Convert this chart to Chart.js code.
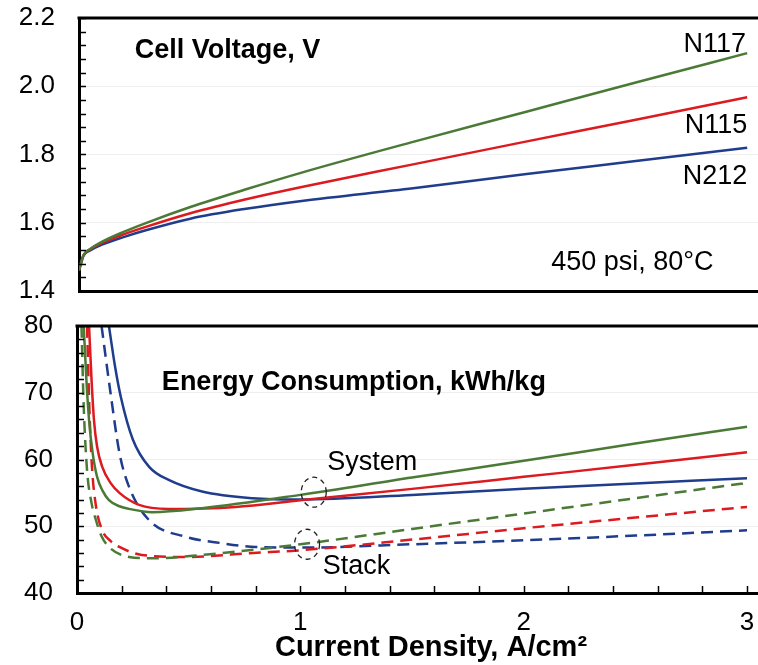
<!DOCTYPE html>
<html>
<head>
<meta charset="utf-8">
<script src="https://cdn.jsdelivr.net/npm/chart.js@4.4.1/dist/chart.umd.min.js"></script>
<style>
  html, body { margin: 0; padding: 0; background: #fff; overflow: hidden; width: 758px; height: 665px; }
  canvas { position: absolute; left: 0; }
  #top { top: 0; }
  #bottom { top: 300px; }
</style>
</head>
<body>
<canvas id="top" width="770" height="320"></canvas>
<canvas id="bottom" width="790" height="365"></canvas>
<script>
// x axis ticks (current density, A/cm2)
const xTicks = [0, 1, 2, 3];

// Cell voltage, V
const xVolt = [0, 0.02, 0.05, 0.1, 0.2, 0.3, 0.5, 0.75, 1.0, 1.5, 2.0, 2.5, 3.0];
const voltN117 = [1.46, 1.505, 1.523, 1.543, 1.573, 1.599, 1.646, 1.698, 1.747, 1.837, 1.924, 2.011, 2.097];
const voltN115 = [1.46, 1.505, 1.522, 1.540, 1.566, 1.588, 1.628, 1.669, 1.705, 1.771, 1.837, 1.902, 1.968];
const voltN212 = [1.46, 1.503, 1.519, 1.535, 1.558, 1.578, 1.612, 1.641, 1.664, 1.701, 1.742, 1.781, 1.820];

// System energy consumption, kWh/kg
const sysN117X = [0.03, 0.042, 0.054, 0.07, 0.09, 0.115, 0.143, 0.19, 0.233, 0.336, 0.56, 1.0, 1.5, 2.0, 2.5, 3.0];
const sysN117Y = [80, 72, 65.9, 61, 57.4, 55.3, 53.9, 53.0, 52.6, 52.1, 52.7, 54.7, 57.3, 59.8, 62.4, 64.9];
const sysN115X = [0.054, 0.065, 0.076, 0.09, 0.113, 0.15, 0.19, 0.278, 0.41, 0.71, 1.0, 1.5, 2.0, 2.5, 3.0];
const sysN115Y = [80, 72, 65.9, 61.9, 58.9, 56.5, 55.0, 53.2, 52.6, 52.9, 53.9, 55.6, 57.4, 59.2, 61.1];
const sysN212X = [0.143, 0.17, 0.196, 0.25, 0.323, 0.413, 0.56, 0.785, 1.0, 1.5, 2.0, 2.5, 3.0];
const sysN212Y = [80, 74, 69.4, 63.0, 58.9, 56.9, 55.2, 54.2, 54.0, 54.7, 55.6, 56.4, 57.2];

// Stack energy consumption, kWh/kg
const stkN117X = [0.02, 0.03, 0.045, 0.065, 0.085, 0.11, 0.143, 0.233, 0.34, 0.56, 1.0, 1.5, 2.0, 2.5, 3.0];
const stkN117Y = [80, 68, 58.4, 53.5, 50.9, 48.5, 46.9, 45.4, 45.2, 45.7, 47.3, 49.6, 51.9, 54.2, 56.5];
const stkN115X = [0.045, 0.055, 0.067, 0.085, 0.113, 0.15, 0.19, 0.29, 0.49, 0.79, 1.0, 1.5, 2.0, 2.5, 3.0];
const stkN115Y = [80, 68, 58.9, 53, 49.4, 47.8, 46.9, 45.7, 45.4, 46.0, 46.4, 48.0, 49.7, 51.3, 52.9];
const stkN212X = [0.11, 0.15, 0.19, 0.233, 0.323, 0.49, 0.64, 0.8, 1.0, 1.5, 2.0, 2.5, 3.0];
const stkN212Y = [80, 70, 61, 55.9, 50.9, 48.4, 47.5, 46.9, 46.8, 47.3, 47.9, 48.6, 49.4];

const GREEN = "#4a7a35";
const RED = "#dc1a1f";
const BLUE = "#1f3d8c";
const FONT = "'Liberation Sans', Arial, sans-serif";

Chart.defaults.color = "#000";
Chart.defaults.font.family = FONT;

const pts = (xs, ys) => xs.map((x, i) => ({ x: x, y: ys[i] }));

function line(data, color, dashed) {
    return {
        data: data,
        borderColor: color,
        borderWidth: 2.5,
        borderDash: dashed ? [12, 7] : [],
        pointRadius: 0,
        fill: false,
        cubicInterpolationMode: "monotone"
    };
}

// box top edge, inward minor ticks, text labels and dashed rings
const panelDecor = {
    id: "panelDecor",
    afterDraw(chart, args, opts) {
        const ctx = chart.ctx, a = chart.chartArea;
        const xs = chart.scales.x, ys = chart.scales.y;
        ctx.save();
        ctx.strokeStyle = "#000";
        ctx.lineWidth = 3;
        ctx.beginPath();
        ctx.moveTo(a.left - 1.5, a.top);
        ctx.lineTo(a.right, a.top);
        ctx.stroke();

        ctx.lineWidth = 1.5;
        for (let v = ys.min; v <= ys.max + 1e-9; v += opts.yMinor) {
            const py = Math.round(ys.getPixelForValue(v)) + 0.5;
            ctx.beginPath();
            ctx.moveTo(a.left, py);
            ctx.lineTo(a.left + 7, py);
            ctx.stroke();
        }
        if (opts.xMinor) {
            for (let v = opts.xMinor; v <= 3 + 1e-9; v += opts.xMinor) {
                const px = Math.round(xs.getPixelForValue(v)) + 0.5;
                ctx.beginPath();
                ctx.moveTo(px, a.bottom);
                ctx.lineTo(px, a.bottom - 7);
                ctx.stroke();
            }
        }

        ctx.fillStyle = "#000";
        ctx.textBaseline = "middle";
        (opts.texts || []).forEach(t => {
            ctx.font = (t.bold ? "bold " : "") + "27px " + FONT;
            ctx.textAlign = t.align || "left";
            ctx.fillText(t.text, xs.getPixelForValue(t.x), ys.getPixelForValue(t.y));
        });

        ctx.setLineDash([5, 4]);
        ctx.lineWidth = 1.3;
        ctx.strokeStyle = "#222";
        (opts.rings || []).forEach(r => {
            ctx.beginPath();
            ctx.ellipse(xs.getPixelForValue(r.x), ys.getPixelForValue(r.y), 12.5, 15, 0, 0, Math.PI * 2);
            ctx.stroke();
        });
        ctx.restore();
    }
};

const axisBorder = { display: true, color: "#000", width: 3 };
// label gap made with a transparent tick so it does not add to the top/bottom padding
const yGrid = { color: "#eeeeee", lineWidth: 1, drawTicks: true, tickLength: 24, tickColor: "rgba(0,0,0,0)" };

// top panel: cell voltage
new Chart(document.getElementById("top"), {
    type: "line",
    data: {
        datasets: [
            line(pts(xVolt, voltN117), GREEN),
            line(pts(xVolt, voltN115), RED),
            line(pts(xVolt, voltN212), BLUE)
        ]
    },
    options: {
        responsive: false,
        animation: false,
        layout: { padding: { top: 18, bottom: 29, left: 0, right: 5 } },
        plugins: {
            legend: { display: false },
            tooltip: { enabled: false },
            panelDecor: {
                yMinor: 0.04,
                texts: [
                    { text: "Cell Voltage, V", x: 0.25, y: 2.106, bold: true },
                    { text: "N117", x: 2.995, y: 2.121, align: "right" },
                    { text: "N115", x: 3.0, y: 1.884, align: "right" },
                    { text: "N212", x: 3.0, y: 1.734, align: "right" },
                    { text: "450 psi, 80°C", x: 2.12, y: 1.482 }
                ]
            }
        },
        scales: {
            x: {
                type: "linear",
                min: 0,
                max: 3.08,
                ticks: { display: false },
                grid: { display: false },
                border: axisBorder,
                afterFit: s => { s.height = 0; }
            },
            y: {
                min: 1.4,
                max: 2.2,
                ticks: { stepSize: 0.2, padding: 0, font: { size: 26 }, callback: v => v.toFixed(1) },
                grid: yGrid,
                border: axisBorder,
                afterFit: s => { s.width = 79; }
            }
        }
    },
    plugins: [panelDecor]
});

// bottom panel: energy consumption
new Chart(document.getElementById("bottom"), {
    type: "line",
    data: {
        datasets: [
            line(pts(sysN117X, sysN117Y), GREEN),
            line(pts(sysN115X, sysN115Y), RED),
            line(pts(sysN212X, sysN212Y), BLUE),
            line(pts(stkN117X, stkN117Y), GREEN, true),
            line(pts(stkN115X, stkN115Y), RED, true),
            line(pts(stkN212X, stkN212Y), BLUE, true)
        ]
    },
    options: {
        responsive: false,
        animation: false,
        layout: { padding: { top: 26, bottom: 0, left: 0, right: 5 } },
        plugins: {
            legend: { display: false },
            tooltip: { enabled: false },
            panelDecor: {
                yMinor: 2,
                xMinor: 0.2,
                texts: [
                    { text: "Energy Consumption, kWh/kg", x: 0.38, y: 71.6, bold: true },
                    { text: "System", x: 1.12, y: 59.6 },
                    { text: "Stack", x: 1.1, y: 44.0 }
                ],
                rings: [
                    { x: 1.06, y: 55.1 },
                    { x: 1.03, y: 47.3 }
                ]
            }
        },
        scales: {
            x: {
                type: "linear",
                min: 0,
                max: 3.17,
                afterBuildTicks: s => { s.ticks = xTicks.map(v => ({ value: v })); },
                ticks: { padding: 6, font: { size: 26 }, maxRotation: 0 },
                grid: { display: false },
                border: axisBorder,
                title: {
                    display: true,
                    text: "Current Density, A/cm²",
                    font: { size: 29, weight: "bold" },
                    padding: { top: 0, bottom: 0 }
                },
                afterFit: s => { s.height = 72; }
            },
            y: {
                min: 40,
                max: 80,
                ticks: { stepSize: 10, padding: 0, font: { size: 26 } },
                grid: yGrid,
                border: axisBorder,
                afterFit: s => { s.width = 77; }
            }
        }
    },
    plugins: [panelDecor]
});
</script>
</body>
</html>
